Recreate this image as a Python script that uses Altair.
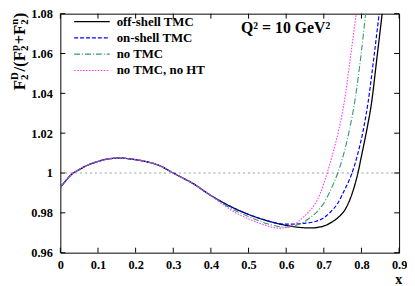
import altair as alt
import pandas as pd

# ---------------- data ----------------
common_x = [0.0, 0.013, 0.028, 0.05, 0.072, 0.1, 0.125, 0.154, 0.18, 0.2, 0.233, 0.26, 0.3, 0.32, 0.35, 0.4]
common_y = [0.9928, 0.9958, 0.9990, 1.0017, 1.0039, 1.0058, 1.0070, 1.0075, 1.0072, 1.0067, 1.0055, 1.0040,
            1.0000, 0.9980, 0.9950, 0.9887]

offshell_x = [0.45, 0.5, 0.55, 0.575, 0.6, 0.635, 0.665, 0.7, 0.72, 0.74, 0.755, 0.77, 0.78, 0.79, 0.8, 0.815, 0.827, 0.84, 0.855]
offshell_y = [0.9834, 0.9792, 0.9760, 0.9747, 0.9737, 0.9727, 0.9724, 0.9734, 0.9752, 0.9780, 0.9812, 0.9870,
              0.9925, 0.9995, 1.0085, 1.0225, 1.0355, 1.0560, 1.0800]

onshell_x = [0.45, 0.5, 0.55, 0.575, 0.6, 0.62, 0.645, 0.68, 0.7, 0.717, 0.736, 0.755, 0.775, 0.79, 0.804, 0.818, 0.833, 0.847]
onshell_y = [0.9834, 0.9792, 0.9760, 0.9748, 0.9743, 0.9743, 0.9747, 0.9758, 0.9775, 0.9803, 0.9845, 0.9915,
             1.0000, 1.0095, 1.0208, 1.0360, 1.0580, 1.0800]

notmc_x = [0.45, 0.5, 0.55, 0.575, 0.6, 0.625, 0.649, 0.665, 0.682, 0.697, 0.717, 0.737, 0.752, 0.767, 0.784, 0.798, 0.811]
notmc_y = [0.9826, 0.9781, 0.9745, 0.9733, 0.9728, 0.9737, 0.9756, 0.9778, 0.9805, 0.9840, 0.9910, 1.0000,
           1.0090, 1.0208, 1.0380, 1.0580, 1.0800]

noht_x = [0.45, 0.469, 0.5, 0.55, 0.58, 0.6, 0.615, 0.632, 0.648, 0.66, 0.675, 0.69, 0.708, 0.725, 0.739, 0.755, 0.771, 0.786]
noht_y = [0.9818, 0.9797, 0.9770, 0.9735, 0.9723, 0.9727, 0.9736, 0.9756, 0.9782, 0.9805, 0.9840, 0.9895,
          0.9995, 1.0105, 1.0210, 1.0365, 1.0585, 1.0800]

series_names = ["off-shell TMC", "on-shell TMC", "no TMC", "no TMC, no HT"]
series_tails = [(offshell_x, offshell_y), (onshell_x, onshell_y), (notmc_x, notmc_y), (noht_x, noht_y)]

x_ticks = [0.0, 0.1, 0.2, 0.3, 0.4, 0.5, 0.6, 0.7, 0.8, 0.9]
y_ticks = [0.96, 0.98, 1.0, 1.02, 1.04, 1.06, 1.08]
annotation = "Q² = 10 GeV²"

# ---------------- styling ----------------
FONT = "Liberation Serif"
W, H = 343, 242
colors = ["#000000", "#0000ff", "#339966", "#ff33ff"]
dashes = [[1, 0], [4, 2], [6, 2, 1, 2], [1.5, 1.5]]
widths = [1.3, 1.2, 1.1, 1.1]

xs = alt.Scale(domain=[0, 0.9], nice=False, zero=False)
ys = alt.Scale(domain=[0.96, 1.08], nice=False, zero=False)

ax_x = alt.Axis(
    values=x_ticks, labelExpr="format(datum.value, '.1~f')", ticks=False, tickSize=0, domain=False,
    grid=False, labelPadding=6, labelOverlap=False, labelBound=False, labelFlush=False,
    labelFont=FONT, labelFontWeight="bold", labelFontSize=12.5,
    labelColor="black", title="x", titleFont=FONT, titleFontWeight="bold", titleFontSize=14,
    titleX=W - 1, titleY=27, titleAlign="center", titleBaseline="middle", titleColor="black")
ax_y = alt.Axis(
    values=y_ticks, labelExpr="format(datum.value, '.2~f')", ticks=False, tickSize=0, domain=False,
    grid=False, labelPadding=8, labelOverlap=False, labelBound=False, labelFlush=False,
    labelFont=FONT, labelFontWeight="bold", labelFontSize=12.5,
    labelColor="black", title=None)

frames = []
for name, (tx, ty) in zip(series_names, series_tails):
    xx = common_x + tx
    yy = common_y + ty
    frames.append(pd.DataFrame({"series": name, "x": xx, "y": yy, "order": range(len(xx))}))

# base layer with axes
ref_line = alt.Chart(pd.DataFrame({"v": [1.0]})).mark_rule(
    color="#999999", strokeDash=[2, 3], strokeWidth=1
).encode(
    x=alt.X("xmin:Q", scale=xs, axis=ax_x),
    x2=alt.X2("xmax:Q"),
    y=alt.Y("v:Q", scale=ys, axis=ax_y),
).transform_calculate(xmin="0", xmax="0.9")

layers = [ref_line]
for i in range(4):
    layers.append(
        alt.Chart(frames[i]).mark_line(
            color=colors[i], strokeDash=dashes[i], strokeWidth=widths[i], interpolate="monotone", clip=True
        ).encode(
            x=alt.X("x:Q", scale=xs, axis=ax_x), y=alt.Y("y:Q", scale=ys, axis=ax_y), order="order:Q"
        )
    )

# inward ticks
xt = pd.DataFrame({"v": x_ticks})
yt = pd.DataFrame({"v": y_ticks})
TL = 5
layers.append(alt.Chart(xt).mark_rule(color="black", strokeWidth=1).encode(
    x=alt.X("v:Q", scale=xs, axis=ax_x), y=alt.value(H), y2=alt.value(H - TL)))
layers.append(alt.Chart(xt).mark_rule(color="black", strokeWidth=1).encode(
    x=alt.X("v:Q", scale=xs, axis=ax_x), y=alt.value(0), y2=alt.value(TL)))
layers.append(alt.Chart(yt).mark_rule(color="black", strokeWidth=1).encode(
    y=alt.Y("v:Q", scale=ys, axis=ax_y), x=alt.value(0), x2=alt.value(TL)))
layers.append(alt.Chart(yt).mark_rule(color="black", strokeWidth=1).encode(
    y=alt.Y("v:Q", scale=ys, axis=ax_y), x=alt.value(W - TL), x2=alt.value(W)))

# legend (manual, top-left inside)
leg_y = [8, 24.5, 41, 57.5]
for i, name in enumerate(series_names):
    d = pd.DataFrame({"label": [name]})
    layers.append(alt.Chart(d).mark_rule(
        color=colors[i], strokeDash=dashes[i], strokeWidth=widths[i]
    ).encode(x=alt.value(14), x2=alt.value(50), y=alt.value(leg_y[i])))
    layers.append(alt.Chart(d).mark_text(
        font=FONT, fontWeight="bold", fontSize=13, align="left", baseline="middle", color="black"
    ).encode(text="label:N", x=alt.value(57), y=alt.value(leg_y[i])))

# annotation
layers.append(alt.Chart(pd.DataFrame({"t": [annotation]})).mark_text(
    font=FONT, fontWeight="bold", fontSize=16, align="left", baseline="middle", color="black"
).encode(text="t:N", x=alt.value(183), y=alt.value(15)))

# y-axis title built from pieces (sub/superscripts), rotated
MAIN, SCR = 17, 11
cw = {"F": 0.611, "/": 0.278, "(": 0.333, ")": 0.333, "+": 0.570, "2": 0.5, "D": 0.722, "p": 0.556, "n": 0.556}
def tw(s, fs):
    return sum(cw[c] for c in s) * fs

pieces = []  # (text, fontsize, baseline_x, start_y)
xb_main, xb_sub, xb_sup = -35.5, -33, -42.5
pos = 77.5
seq = [("F", None), ("2", "D"), ("/(F", None), ("2", "p"), ("+F", None), ("2", "n"), (")", None)]
for a, b in seq:
    if b is None:
        pieces.append((a, MAIN, xb_main, pos))
        pos -= tw(a, MAIN)
    else:
        pieces.append((a, SCR, xb_sub, pos))
        pieces.append((b, SCR, xb_sup, pos))
        pos -= max(tw(a, SCR), tw(b, SCR)) + 0.5

for txt, fs, bx, sy in pieces:
    layers.append(alt.Chart(pd.DataFrame({"t": [txt]})).mark_text(
        font=FONT, fontWeight="bold", fontSize=fs, align="left", baseline="alphabetic", angle=270, color="black"
    ).encode(text="t:N", x=alt.value(bx), y=alt.value(sy)))

chart = alt.layer(*layers).properties(
    width=W, height=H,
    autosize=alt.AutoSizeParams(type="none"),
    padding={"left": 53, "top": 4, "right": 8, "bottom": 32},
).configure_view(stroke="black", strokeWidth=1)

chart.save("out.html", embed_options={"renderer": "svg", "actions": False})
